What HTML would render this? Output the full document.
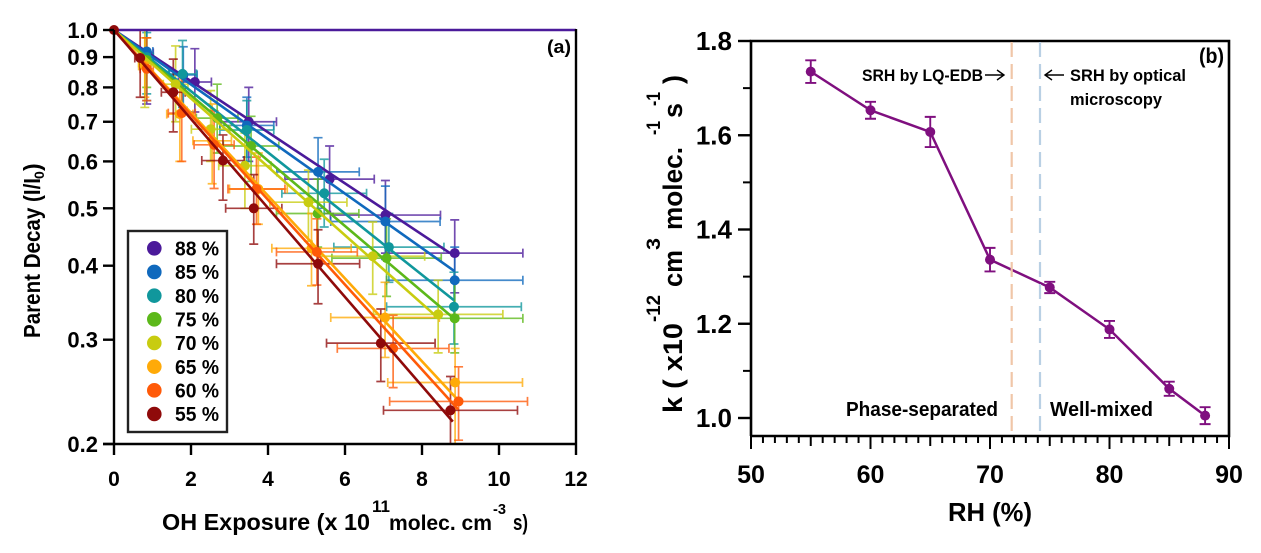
<!DOCTYPE html>
<html lang="en">
<head>
<meta charset="utf-8">
<title>Parent decay and k vs RH</title>
<style>
html,body{margin:0;padding:0;background:#fff;width:1261px;height:553px;overflow:hidden}
svg{display:block;font-family:"Liberation Sans",sans-serif;font-weight:bold;fill:#000}
</style>
</head>
<body>
<svg id="fig" width="1261" height="553" viewBox="0 0 1261 553" xmlns="http://www.w3.org/2000/svg">
  <rect width="1261" height="553" fill="#fff"/>
  <g id="panelA"></g>
  <g id="panelB"></g>

  <g>
    <text x="162" y="530" font-size="23" textLength="208" lengthAdjust="spacingAndGlyphs">OH Exposure (x 10</text>
    <text x="372" y="512" font-size="17" textLength="18" lengthAdjust="spacingAndGlyphs">11</text>
    <text x="389" y="530" font-size="21" textLength="103" lengthAdjust="spacingAndGlyphs">molec. cm</text>
    <text x="493" y="514" font-size="15" textLength="13" lengthAdjust="spacingAndGlyphs">-3</text>
    <text x="513" y="530" font-size="22" textLength="15" lengthAdjust="spacingAndGlyphs">s)</text>
  </g>
  <g>
    <text transform="translate(40 338) rotate(-90)" font-size="23" textLength="160" lengthAdjust="spacingAndGlyphs">Parent Decay (I/I</text>
    <text transform="translate(44 179) rotate(-90)" font-size="14">0</text>
    <text transform="translate(40 171) rotate(-90)" font-size="23">)</text>
  </g>
  <text x="547" y="53" font-size="18" textLength="24" lengthAdjust="spacingAndGlyphs">(a)</text>

  <g>
    <text transform="translate(682 413) rotate(-90)" font-size="27" textLength="90" lengthAdjust="spacingAndGlyphs">k ( x10</text>
    <text transform="translate(660 322) rotate(-90)" font-size="19" textLength="27" lengthAdjust="spacingAndGlyphs">-12</text>
    <text transform="translate(682 287) rotate(-90)" font-size="27" textLength="37" lengthAdjust="spacingAndGlyphs">cm</text>
    <text transform="translate(660 250) rotate(-90)" font-size="19" textLength="12" lengthAdjust="spacingAndGlyphs">3</text>
    <text transform="translate(682 230) rotate(-90)" font-size="27" textLength="83" lengthAdjust="spacingAndGlyphs">molec.</text>
    <text transform="translate(660 135) rotate(-90)" font-size="19" textLength="14" lengthAdjust="spacingAndGlyphs">-1</text>
    <text transform="translate(682 118) rotate(-90)" font-size="27" textLength="15" lengthAdjust="spacingAndGlyphs">s</text>
    <text transform="translate(660 106) rotate(-90)" font-size="19" textLength="14" lengthAdjust="spacingAndGlyphs">-1</text>
    <text transform="translate(682 84) rotate(-90)" font-size="27">)</text>
  </g>
  <text x="948" y="521" font-size="26" textLength="84" lengthAdjust="spacingAndGlyphs">RH (%)</text>
  <text x="1199" y="63" font-size="21" textLength="25" lengthAdjust="spacingAndGlyphs">(b)</text>

  <line x1="1011.7" y1="42" x2="1011.7" y2="435" stroke="#f0c6a8" stroke-width="2.2" stroke-dasharray="15 7"/>
  <line x1="1040" y1="42" x2="1040" y2="435" stroke="#b9d0e4" stroke-width="2.2" stroke-dasharray="15 7"/>
  <text x="862" y="81" font-size="17" textLength="121" lengthAdjust="spacingAndGlyphs">SRH by LQ-EDB</text>
  <path d="M985 75H1004M997 70L1004 75L997 80" fill="none" stroke="#000" stroke-width="1.4"/>
  <path d="M1064 75H1045M1052 70L1045 75L1052 80" fill="none" stroke="#000" stroke-width="1.4"/>
  <text x="1070" y="81" font-size="17" textLength="116" lengthAdjust="spacingAndGlyphs">SRH by optical</text>
  <text x="1070" y="105" font-size="17" textLength="92" lengthAdjust="spacingAndGlyphs">microscopy</text>
  <text x="846" y="416" font-size="20" textLength="152" lengthAdjust="spacingAndGlyphs">Phase-separated</text>
  <text x="1050" y="416" font-size="20" textLength="103" lengthAdjust="spacingAndGlyphs">Well-mixed</text>
</svg>

<script>
// Panel (a) data
const rhLevels = [88, 85, 80, 75, 70, 65, 60, 55];
const exposure = [
  [0.85, 2.1, 3.5, 5.6, 7.05, 8.85],
  [0.85, 1.8, 3.45, 5.3, 7.05, 8.85],
  [0.85, 1.78, 3.45, 5.46, 7.14, 8.83],
  [0.85, 2.68, 3.56, 5.29, 7.08, 8.85],
  [0.8, 1.6, 2.51, 3.4, 5.05, 6.72, 8.42],
  [0.8, 1.71, 2.55, 3.75, 5.13, 7.04, 8.86],
  [0.85, 1.76, 2.6, 3.7, 5.27, 7.25, 8.95],
  [0.68, 1.54, 2.83, 3.63, 5.3, 6.93, 8.74]
];
const decay = [
  [0.915, 0.817, 0.70, 0.56, 0.487, 0.42],
  [0.92, 0.84, 0.69, 0.576, 0.475, 0.378],
  [0.90, 0.843, 0.678, 0.53, 0.43, 0.341],
  [0.89, 0.71, 0.637, 0.49, 0.412, 0.326],
  [0.88, 0.81, 0.68, 0.59, 0.512, 0.415, 0.331],
  [0.87, 0.721, 0.65, 0.539, 0.428, 0.327, 0.254],
  [0.86, 0.724, 0.64, 0.539, 0.422, 0.29, 0.236],
  [0.897, 0.785, 0.602, 0.50, 0.403, 0.296, 0.228]
];
const exposureErr = [
  [0.17, 0.43, 0.72, 1.16, 1.43, 1.77],
  [0.16, 0.36, 0.7, 1.07, 1.42, 1.77],
  [0.17, 0.36, 0.7, 1.1, 1.43, 1.75],
  [0.17, 0.54, 0.72, 1.07, 1.42, 1.77],
  [0.16, 0.32, 0.5, 0.68, 1.0, 1.35, 1.68],
  [0.16, 0.34, 0.5, 0.75, 1.03, 1.41, 1.75],
  [0.17, 0.35, 0.52, 0.74, 1.05, 1.45, 1.79],
  [0.14, 0.31, 0.55, 0.73, 1.08, 1.41, 1.74]
];
const decayHi = [
  [1.0, 0.93, 0.80, 0.637, 0.557, 0.478],
  [1.0, 0.937, 0.77, 0.658, 0.545, 0.43],
  [0.99, 0.96, 0.76, 0.605, 0.49, 0.39],
  [0.97, 0.81, 0.715, 0.56, 0.48, 0.375],
  [1.0, 0.94, 0.79, 0.67, 0.58, 0.474, 0.378],
  [0.97, 0.84, 0.75, 0.62, 0.49, 0.375, 0.29],
  [0.97, 0.85, 0.73, 0.61, 0.48, 0.33, 0.27],
  [1.0, 0.893, 0.665, 0.57, 0.46, 0.338, 0.26]
];
const decayLo = [
  [0.75, 0.727, 0.60, 0.49, 0.42, 0.36],
  [0.76, 0.74, 0.61, 0.50, 0.41, 0.33],
  [0.78, 0.74, 0.60, 0.465, 0.375, 0.295],
  [0.80, 0.62, 0.555, 0.43, 0.355, 0.285],
  [0.74, 0.70, 0.60, 0.50, 0.44, 0.358, 0.285],
  [0.77, 0.60, 0.55, 0.47, 0.37, 0.28, 0.20],
  [0.76, 0.60, 0.54, 0.47, 0.371, 0.249, 0.203],
  [0.77, 0.673, 0.516, 0.435, 0.345, 0.255, 0.20]
];
const fitRate = [0.0994, 0.106, 0.119, 0.127, 0.133, 0.161, 0.165, 0.173];
const fitEnd = [8.73, 8.85, 8.83, 8.83, 8.34, 8.94, 8.94, 8.80];
const xTicksA = [0, 2, 4, 6, 8, 10, 12];
const yTicksA = [1.0, 0.9, 0.8, 0.7, 0.6, 0.5, 0.4, 0.3, 0.2];

// Panel (b) data
const rhValues = [55, 60, 65, 70, 75, 80, 85, 88];
const kValues = [1.735, 1.653, 1.607, 1.336, 1.277, 1.188, 1.062, 1.005];
const kErrors = [0.024, 0.018, 0.032, 0.025, 0.012, 0.018, 0.015, 0.018];
const xTicksB = [50, 60, 70, 80, 90];
const yTicksB = [1.0, 1.2, 1.4, 1.6, 1.8];
const yMinorB = [1.1, 1.3, 1.5, 1.7];

const seriesColors = ['#4b1a9a', '#1069bd', '#10979c', '#5cb81a', '#c8cc10', '#ffaa08', '#ff5a08', '#8f0a0a'];

const NS = 'http://www.w3.org/2000/svg';
function mk(parent, tag, attrs, text) {
  const el = document.createElementNS(NS, tag);
  for (const k in attrs) el.setAttribute(k, attrs[k]);
  if (text !== undefined) el.textContent = text;
  parent.appendChild(el);
  return el;
}
const ax = x => 114 + x * 38.5;
const ay = y => 30 - Math.log10(y) * 592.3;
const bx = x => 751 + (x - 50) * 11.95;
const by = y => 418 - (y - 1) * 471.25;

const A = document.getElementById('panelA');
const B = document.getElementById('panelB');

// Panel (a): error bars
rhLevels.forEach((rh, s) => {
  const g = mk(A, 'g', { stroke: seriesColors[s], 'stroke-width': 1.7, 'stroke-opacity': 0.78, fill: 'none' });
  
  
  exposure[s].forEach((x, i) => {
    const px = ax(x), py = ay(decay[s][i]);
    const l = ax(x - exposureErr[s][i]), r = ax(x + exposureErr[s][i]);
    const t = ay(decayHi[s][i]), b = ay(decayLo[s][i]);
    const d = 'M' + l + ' ' + py + 'H' + r + 'M' + l + ' ' + (py - 4.5) + 'V' + (py + 4.5) + 'M' + r + ' ' + (py - 4.5) + 'V' + (py + 4.5) +
      'M' + px + ' ' + t + 'V' + b + 'M' + (px - 4.5) + ' ' + t + 'H' + (px + 4.5) + 'M' + (px - 4.5) + ' ' + b + 'H' + (px + 4.5);
    const bar = mk(g, 'path', { d: d });
    
    
  });
});

// Panel (a): frame
const frameTop = mk(A, 'line', { x1: ax(0), y1: ay(1), x2: ax(12), y2: ay(1), stroke: '#4b1a9a', 'stroke-width': 2.4 });


const frameRight = mk(A, 'line', { x1: ax(12), y1: ay(1) - 1, x2: ax(12), y2: ay(0.2), stroke: '#000', 'stroke-width': 2.4 });



// Panel (a): fits and markers
rhLevels.forEach((rh, s) => {
  const end = fitEnd[s];
  const fit = mk(A, 'line', { x1: ax(0), y1: ay(1), x2: ax(end), y2: ay(Math.exp(-fitRate[s] * end)), stroke: seriesColors[s], 'stroke-width': 2.6 });
  
  
  exposure[s].forEach((x, i) => {
    const c = mk(A, 'circle', { cx: ax(x), cy: ay(decay[s][i]), r: 5, fill: seriesColors[s] });
    
    
  });
});
const origin = mk(A, 'circle', { cx: ax(0), cy: ay(1), r: 5, fill: seriesColors[7] });



// Panel (a): axes
const axAY = mk(A, 'line', { x1: ax(0), y1: ay(1), x2: ax(0), y2: ay(0.2) + 1, stroke: '#000', 'stroke-width': 2.4 });


const axAX = mk(A, 'line', { x1: 103, y1: ay(0.2), x2: ax(12) + 1, y2: ay(0.2), stroke: '#000', 'stroke-width': 2.4 });


xTicksA.forEach(v => {
  const t = mk(A, 'line', { x1: ax(v), y1: 444, x2: ax(v), y2: 455, stroke: '#000', 'stroke-width': 2.4 });
  
  
  const l = mk(A, 'text', { x: ax(v), y: 486, 'text-anchor': 'middle', 'font-size': 21 }, String(v));
  
  
});
yTicksA.forEach(v => {
  const t = mk(A, 'line', { x1: 103, y1: ay(v), x2: 114, y2: ay(v), stroke: '#000', 'stroke-width': 2.4 });
  
  
  const l = mk(A, 'text', { x: 98, y: ay(v) + 8, 'text-anchor': 'end', 'font-size': 22 }, v.toFixed(1));
  
  
});

// Panel (a): legend
const legendBox = mk(A, 'rect', { x: 128, y: 231, width: 99, height: 201, fill: '#fff', stroke: '#222', 'stroke-width': 2.4 });


rhLevels.forEach((rh, s) => {
  const c = mk(A, 'circle', { cx: 154.3, cy: 248.3 + s * 23.67, r: 7.3, fill: seriesColors[s] });
  
  
  const l = mk(A, 'text', { x: 175, y: 255.5 + s * 23.67, 'font-size': 20, textLength: 44, lengthAdjust: 'spacingAndGlyphs' }, rh + ' %');
  
  
});

// Panel (b): axes
const axisPath = mk(B, 'path', { d: 'M751 436V41H1229V436H751', fill: 'none', stroke: '#000', 'stroke-width': 2.6 });


yTicksB.forEach(v => {
  const t = mk(B, 'line', { x1: 738, y1: by(v), x2: 751, y2: by(v), stroke: '#000', 'stroke-width': 2.4 });
  
  
  const l = mk(B, 'text', { x: 732, y: by(v) + 9, 'text-anchor': 'end', 'font-size': 26 }, v.toFixed(1));
  
  
});
yMinorB.forEach(v => {
  const t = mk(B, 'line', { x1: 743, y1: by(v), x2: 751, y2: by(v), stroke: '#000', 'stroke-width': 2 });
  
  
});
for (let v = 50; v <= 90; v++) {
  const len = v % 10 === 0 ? 13 : (v % 5 === 0 ? 10 : 7);
  const t = mk(B, 'line', { x1: bx(v), y1: 436, x2: bx(v), y2: 436 + len, stroke: '#000', 'stroke-width': 2 });
  
  
}
xTicksB.forEach(v => {
  const l = mk(B, 'text', { x: bx(v), y: 483, 'text-anchor': 'middle', 'font-size': 25 }, String(v));
  
  
});

// Panel (b): series
const kLine = mk(B, 'polyline', { points: rhValues.map((x, i) => bx(x) + ',' + by(kValues[i])).join(' '), fill: 'none', stroke: '#7f0f7f', 'stroke-width': 2.5 });


rhValues.forEach((x, i) => {
  const px = bx(x), t = by(kValues[i] + kErrors[i]), b = by(kValues[i] - kErrors[i]);
  const e = mk(B, 'path', { d: 'M' + px + ' ' + t + 'V' + b + 'M' + (px - 5.5) + ' ' + t + 'H' + (px + 5.5) + 'M' + (px - 5.5) + ' ' + b + 'H' + (px + 5.5), fill: 'none', stroke: '#7f0f7f', 'stroke-width': 1.9 });
  
  
  const c = mk(B, 'circle', { cx: px, cy: by(kValues[i]), r: 5, fill: '#7f0f7f' });
  
  
});
</script>
</body>
</html>
